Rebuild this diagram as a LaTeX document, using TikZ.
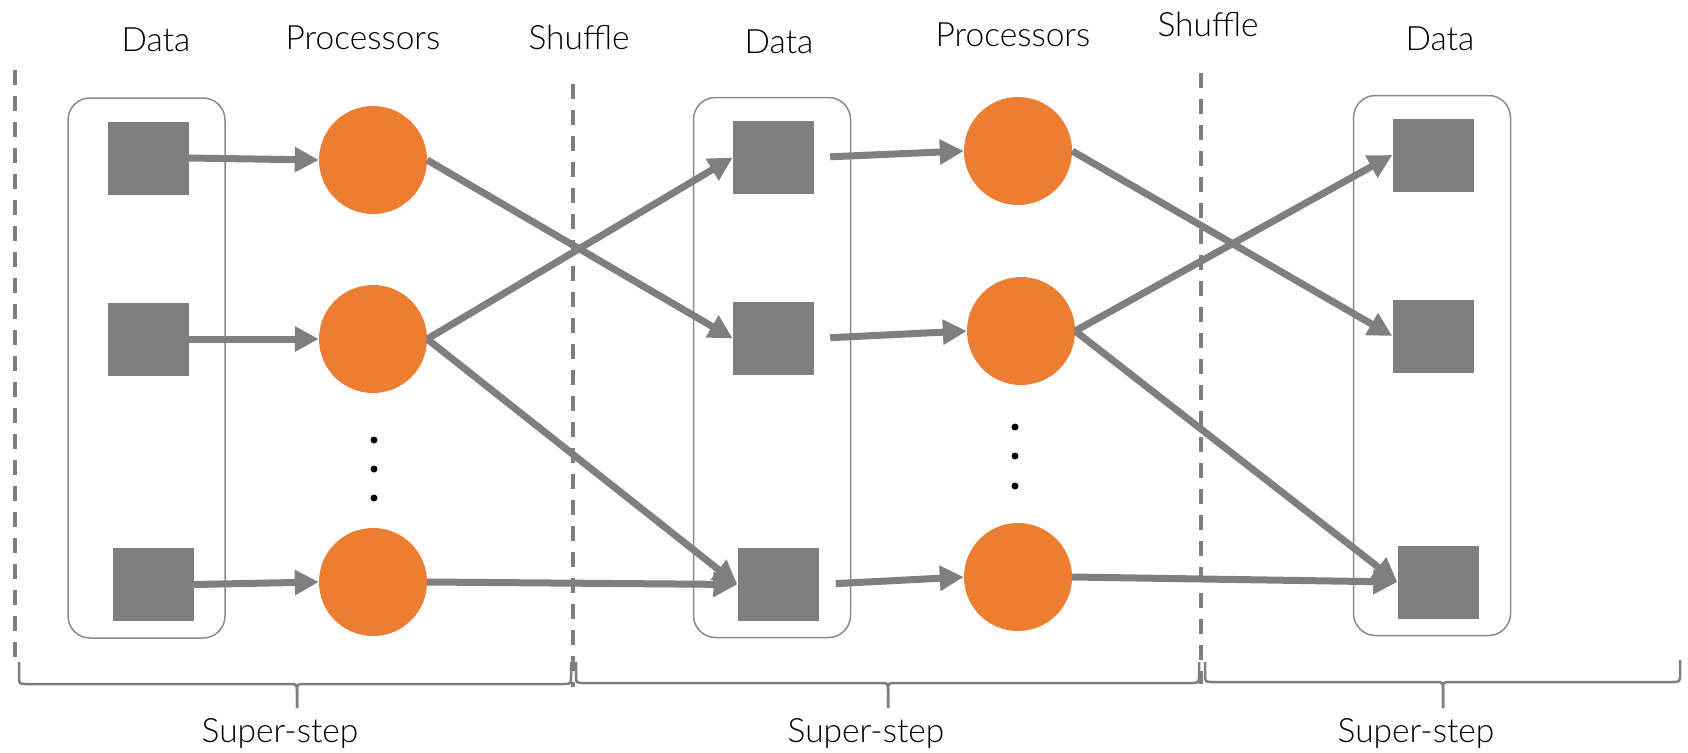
\documentclass[tikz,border=0pt]{standalone}
\usepackage{fontspec}
\setmainfont{Lato}[UprightFont=* Light]
\usetikzlibrary{arrows.meta}
\definecolor{sqgray}{HTML}{7F7F7F}
\definecolor{orng}{HTML}{ED7D31}
\definecolor{boxgray}{HTML}{8A8A8A}
\begin{document}
\begin{tikzpicture}[x=1pt,y=-1pt,
  sq/.style={fill=sqgray, minimum width=81pt, minimum height=73pt, inner sep=0pt},
  proc/.style={circle, fill=orng, minimum size=108pt, inner sep=0pt},
  grp/.style={draw=boxgray, line width=1.5pt, rounded corners=22pt, minimum width=157pt, minimum height=540pt, inner sep=0pt},
  conn/.style={draw=sqgray, line width=7pt, -{Triangle[length=24pt,width=24pt]}},
  sep/.style={draw=sqgray, line width=3.6pt, dash pattern=on 15pt off 11pt},
  brc/.style={draw=sqgray, line width=2.5pt},
  lbl/.style={font=\fontsize{33.5}{40}\selectfont, anchor=base, inner sep=0pt},
  dot/.style={circle, fill=black, minimum size=7pt, inner sep=0pt}]
\useasboundingbox (0,0) rectangle (1688,752);

% group boxes
\node[grp] (g1) at (146.5,368) {};
\node[grp] (g2) at (772,367.5) {};
\node[grp] (g3) at (1432,365.5) {};

% separators
\draw[sep] (15,70) -- (15,662);
\draw[sep] (573,84) -- (573,687);
\draw[sep] (1201,73) -- (1201,684);

% data squares
\node[sq] (s1a) at (148,158) {};
\node[sq] (s1b) at (148,339) {};
\node[sq] (s1c) at (153.5,584.5) {};
\node[sq] (s2a) at (773.5,157.5) {};
\node[sq] (s2b) at (773.5,338.5) {};
\node[sq] (s2c) at (778,584.5) {};
\node[sq] (s3a) at (1433,155) {};
\node[sq] (s3b) at (1433,336) {};
\node[sq] (s3c) at (1438,582) {};

% processors
\node[proc] (p1a) at (373,160) {};
\node[proc] (p1b) at (373,339) {};
\node[proc] (p1c) at (373,582) {};
\node[proc] (p2a) at (1018,151) {};
\node[proc] (p2b) at (1021,331) {};
\node[proc] (p2c) at (1018,577) {};

% dots
\node[dot] (d1a) at (374,440) {};
\node[dot] (d1b) at (374,469) {};
\node[dot] (d1c) at (374,498) {};
\node[dot] (d2a) at (1015,427) {};
\node[dot] (d2b) at (1015,456) {};
\node[dot] (d2c) at (1015,486) {};

% connectors
\draw[conn] (s1a.east) -- (p1a.west);
\draw[conn] (s1b.east) -- (p1b.west);
\draw[conn] (s1c.east) -- (p1c.west);
\draw[conn] (p1a.east) -- (s2b.west);
\draw[conn] (p1b.east) -- (s2a.west);
\draw[conn] (p1b.east) -- (s2c.west);
\draw[conn] (p1c.east) -- (s2c.west);
\draw[conn, shorten <=16pt] (s2a.east) -- (p2a.west);
\draw[conn, shorten <=16pt] (s2b.east) -- (p2b.west);
\draw[conn, shorten <=17pt] (s2c.east) -- (p2c.west);
\draw[conn] (p2a.east) -- (s3b.west);
\draw[conn] (p2b.east) -- (s3a.west);
\draw[conn] (p2b.east) -- (s3c.west);
\draw[conn] (p2c.east) -- (s3c.west);

% braces
\draw[brc] (19,662) -- (19,676) .. controls (19,684) .. (27,684) -- (289,684) .. controls (297,684) .. (297,692) -- (297,708);
\draw[brc] (297,708) -- (297,692) .. controls (297,684) .. (305,684) -- (563,684) .. controls (571,684) .. (571,676) -- (571,662);
\draw[brc] (576,662) -- (576,675) .. controls (576,683) .. (584,683) -- (880,683) .. controls (888,683) .. (888,691) -- (888,708);
\draw[brc] (888,708) -- (888,691) .. controls (888,683) .. (896,683) -- (1191,683) .. controls (1199,683) .. (1199,675) -- (1199,662);
\draw[brc] (1205,662) -- (1205,674) .. controls (1205,682) .. (1213,682) -- (1435,682) .. controls (1443,682) .. (1443,690) -- (1443,708);
\draw[brc] (1443,708) -- (1443,690) .. controls (1443,682) .. (1451,682) -- (1672,682) .. controls (1680,682) .. (1680,674) -- (1680,660);

% labels
\node[lbl] (t1) at (156,52) {Data};
\node[lbl] (t2) at (363,50) {Processors};
\node[lbl] (t3) at (579,50) {Shuffle};
\node[lbl] (t4) at (779,53) {Data};
\node[lbl] (t5) at (1013,47) {Processors};
\node[lbl] (t6) at (1208,37) {Shuffle};
\node[lbl] (t7) at (1440,51) {Data};
\node[lbl] (b1) at (280,742) {Super-step};
\node[lbl] (b2) at (866,742) {Super-step};
\node[lbl] (b3) at (1416,742) {Super-step};
\end{tikzpicture}
\end{document}
